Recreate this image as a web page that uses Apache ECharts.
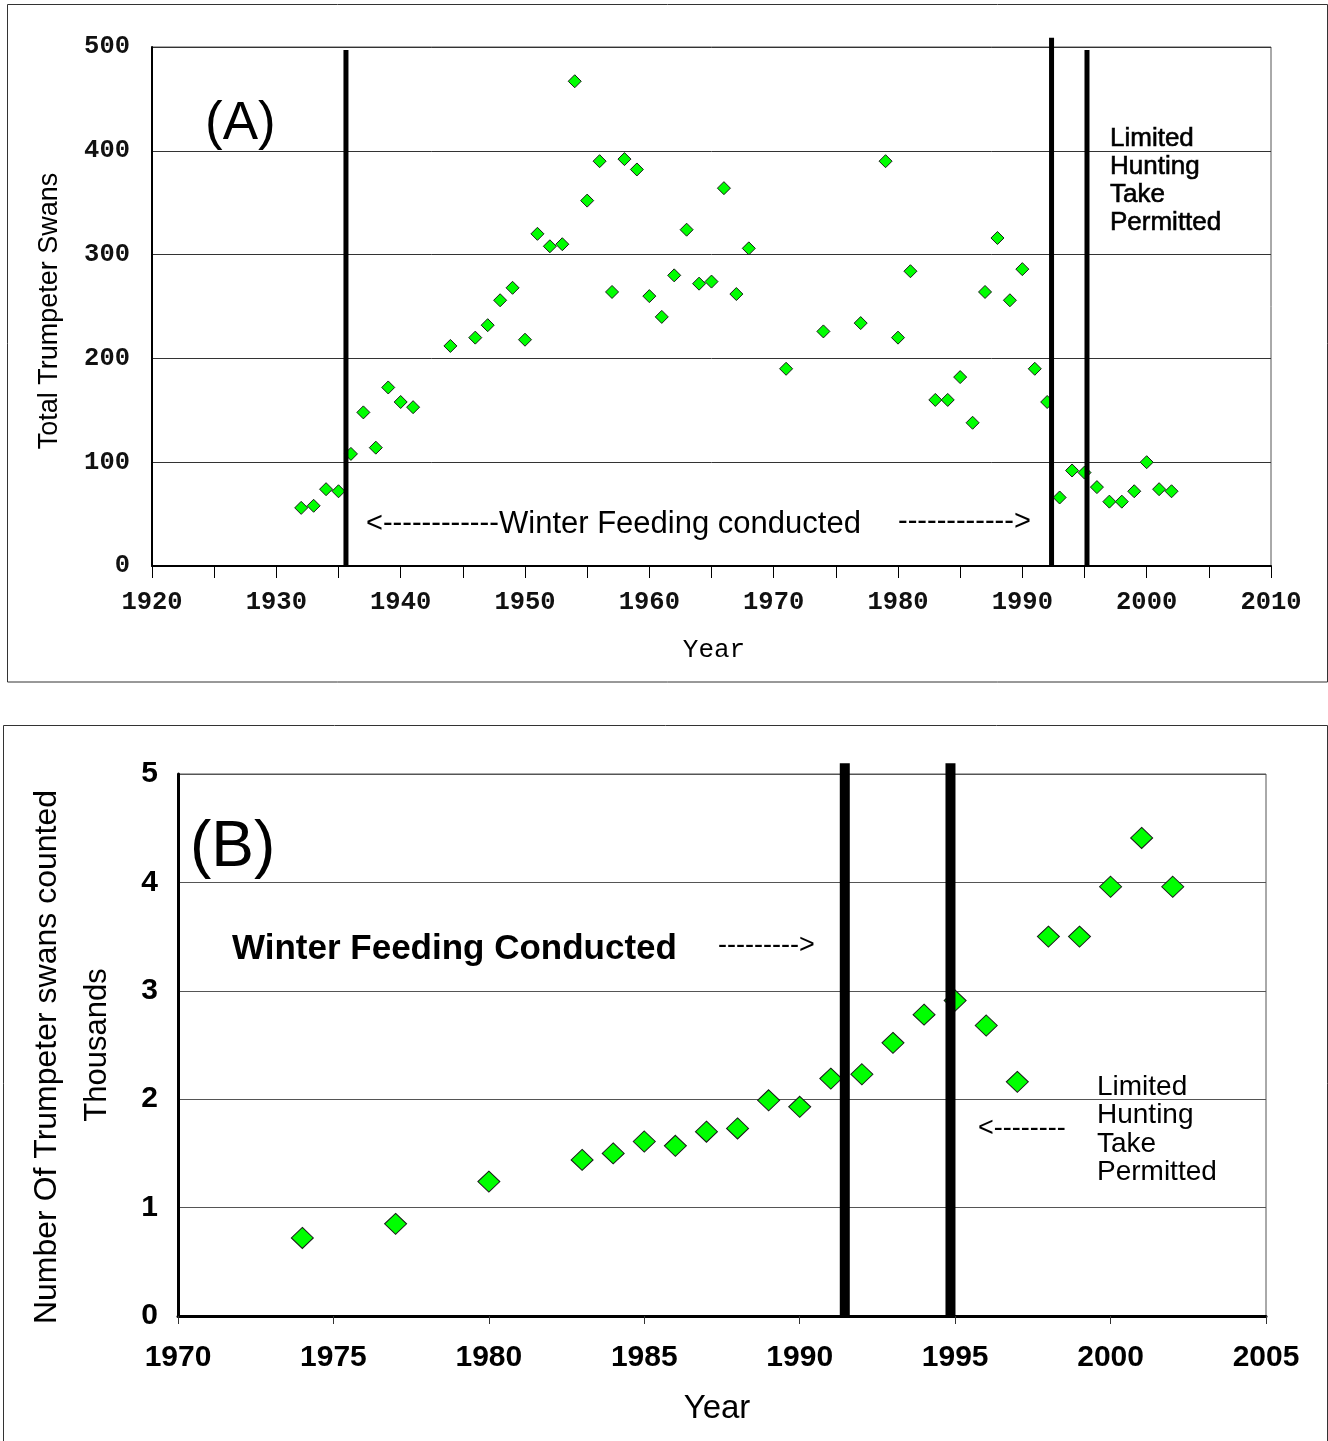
<!DOCTYPE html>
<html>
<head>
<meta charset="utf-8">
<script src="https://cdn.jsdelivr.net/npm/echarts@6/dist/echarts.min.js"></script>
<style>
html,body{margin:0;padding:0;background:#fff;}
#chart{width:1328px;height:1441px;}
</style>
</head>
<body>
<div id="chart"></div>
<script>
// ---- Panel A data (total trumpeter swans) ----
const yearsA = [1932,1933,1934,1935,1936,1937,1938,1939,1940,1941,1944,1946,1947,1948,1949,1950,
  1951,1952,1953,1954,1955,1956,1957,1958,1959,1960,1961,1962,1963,1964,1965,1966,1967,1968,
  1971,1974,1977,1979,1980,1981,1983,1984,1985,1986,1987,1988,1989,1990,1991,1992,
  1993,1994,1995,1996,1997,1998,1999,2000,2001,2002];
const countsA = [56,58,74,72,108,148,114,172,158,153,212,220,232,256,268,218,
  320,308,310,467,352,390,264,392,382,260,240,280,324,272,274,364,262,306,
  190,226,234,390,220,284,160,160,182,138,264,316,256,286,190,158,
  66,92,90,76,62,62,72,100,74,72];
const yTicksA = [0,100,200,300,400,500];
const xTicksA = [1920,1930,1940,1950,1960,1970,1980,1990,2000,2010];
const markYearsA = [1935.6, 1992.35, 1995.2];
const markTopsA = [497, 509, 497];

// ---- Panel B data (thousands counted) ----
const yearsB = [1974,1977,1980,1983,1984,1985,1986,1987,1988,1989,1990,1991,1992,1993,1994,1995,1996,1997,1998,1999,2000,2001,2002];
const countsB = [0.72,0.85,1.24,1.44,1.50,1.61,1.57,1.70,1.73,1.99,1.93,2.19,2.23,2.52,2.78,2.91,2.68,2.16,3.50,3.50,3.96,4.41,3.96];
const yTicksB = [0,1,2,3,4,5];
const xTicksB = [1970,1975,1980,1985,1990,1995,2000,2005];
const markYearsB = [1991.45, 1994.85];
const markTopsB = [5.1, 5.1];

const chart = echarts.init(document.getElementById('chart'), null, {renderer:'canvas'});

const SANS = '"Liberation Sans", Arial, sans-serif';
const MONO = '"Liberation Mono", "Courier New", monospace';

const series = [];
series.push({
  type:'scatter', xAxisIndex:0, yAxisIndex:0, z:2,
  data: yearsA.map((y,i)=>[y,countsA[i]]),
  symbol:'diamond', symbolSize:13,
  itemStyle:{color:'#00ff00', borderColor:'#1a1a1a', borderWidth:1, opacity:1}
});
series.push({
  type:'scatter', xAxisIndex:1, yAxisIndex:1, z:2,
  data: yearsB.map((y,i)=>[y,countsB[i]]),
  symbol:'diamond', symbolSize:[22,21],
  itemStyle:{color:'#00ff00', borderColor:'#1a1a1a', borderWidth:1, opacity:1}
});
markYearsA.forEach((yr,i)=>{
  series.push({type:'line', xAxisIndex:0, yAxisIndex:0, z:5, clip:false, silent:true,
    symbol:'none', data:[[yr,0],[yr,markTopsA[i]]], lineStyle:{color:'#000', width:5}});
});
markYearsB.forEach((yr,i)=>{
  series.push({type:'line', xAxisIndex:1, yAxisIndex:1, z:5, clip:false, silent:true,
    symbol:'none', data:[[yr,0],[yr,markTopsB[i]]], lineStyle:{color:'#000', width:10}});
});

function txt(x,y,text,font,opts){
  opts = opts||{};
  const style = {text:text, font:font, fill:'#000', align:opts.align||'left',
      verticalAlign:opts.va||'middle', lineHeight:opts.lh};
  if (opts.stroke) { style.stroke = '#000'; style.lineWidth = opts.stroke; }
  return {type:'text', x:x, y:y, rotation:opts.rotation||0, z:20, silent:true, style:style};
}

const option = {
  animation:false,
  backgroundColor:'#fff',
  grid:[
    {left:152, top:47, width:1119, height:519, show:true, borderColor:'#555', borderWidth:1, backgroundColor:'#fff'},
    {left:178, top:774, width:1088, height:542, show:true, borderColor:'#555', borderWidth:1, backgroundColor:'#fff'}
  ],
  xAxis:[
    {type:'value', gridIndex:0, min:xTicksA[0], max:xTicksA[xTicksA.length-1], interval:5,
      axisLine:{show:true, onZero:false, lineStyle:{color:'#000', width:2}},
      axisTick:{show:true, length:12, lineStyle:{color:'#000', width:1}},
      axisLabel:{formatter:v=> (xTicksA.indexOf(v)>=0 ? String(v) : ''), fontFamily:MONO, fontWeight:'bold', fontSize:25.5, color:'#111', margin:24},
      splitLine:{show:false}},
    {type:'value', gridIndex:1, min:xTicksB[0], max:xTicksB[xTicksB.length-1], interval:5,
      axisLine:{show:true, onZero:false, lineStyle:{color:'#000', width:3}},
      axisTick:{show:true, length:8, lineStyle:{color:'#333', width:1}},
      axisLabel:{formatter:v=>String(v), fontFamily:SANS, fontWeight:'bold', fontSize:30, color:'#000', margin:27},
      splitLine:{show:false}}
  ],
  yAxis:[
    {type:'value', gridIndex:0, min:yTicksA[0], max:yTicksA[yTicksA.length-1], interval:100,
      axisLine:{show:true, lineStyle:{color:'#000', width:2}},
      axisTick:{show:false},
      axisLabel:{fontFamily:MONO, fontWeight:'bold', fontSize:25.5, color:'#111', margin:22},
      splitLine:{show:true, lineStyle:{color:'#333', width:1}}},
    {type:'value', gridIndex:1, min:yTicksB[0], max:yTicksB[yTicksB.length-1], interval:1,
      axisLine:{show:true, lineStyle:{color:'#000', width:3}},
      axisTick:{show:false},
      axisLabel:{fontFamily:SANS, fontWeight:'bold', fontSize:30, color:'#000', margin:20},
      splitLine:{show:true, lineStyle:{color:'#555', width:1}}}
  ],
  graphic:[
    {type:'rect', z:-1, silent:true, shape:{x:7.5, y:4.5, width:1320, height:677.5}, style:{fill:'none', stroke:'#333', lineWidth:1}},
    {type:'rect', z:-1, silent:true, shape:{x:3.5, y:725.5, width:1324, height:720}, style:{fill:'none', stroke:'#333', lineWidth:1}},
    // Panel A texts
    txt(205,124,'(A)','53px '+SANS),
    txt(1110,125,'Limited\nHunting\nTake\nPermitted','26px '+SANS,{va:'top', lh:28, stroke:0.6}),
    txt(366,524,'<------------','29px '+SANS),
    txt(499,524,'Winter Feeding conducted','31px '+SANS),
    txt(898,522,'------------>','29px '+SANS),
    txt(50,311,'Total Trumpeter Swans','27px '+SANS,{align:'center', rotation:Math.PI/2}),
    txt(714,650,'Year','26px '+MONO,{align:'center'}),
    // Panel B texts
    txt(190,848,'(B)','64px '+SANS),
    txt(232,949,'Winter Feeding Conducted','bold 35px '+SANS),
    txt(718,946,'--------->','27px '+SANS),
    txt(978,1129,'<--------','27px '+SANS),
    txt(1097,1073,'Limited\nHunting\nTake\nPermitted','28px '+SANS,{va:'top', lh:28.5}),
    txt(47,1057,'Number Of Trumpeter swans counted','32px '+SANS,{align:'center', rotation:Math.PI/2}),
    txt(97,1045,'Thousands','31px '+SANS,{align:'center', rotation:Math.PI/2}),
    txt(717,1409,'Year','33px '+SANS,{align:'center'})
  ],
  series: series
};
chart.setOption(option);
</script>
</body>
</html>
